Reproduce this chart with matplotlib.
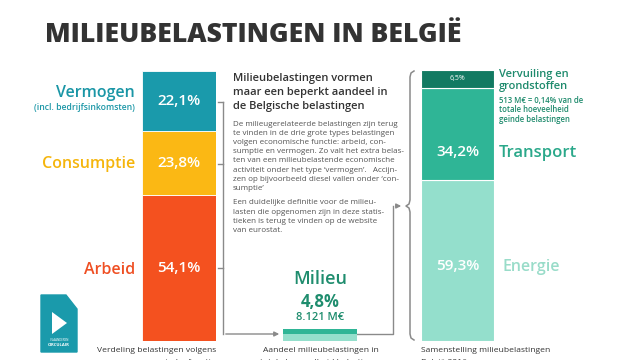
import numpy as np
import matplotlib.pyplot as plt
from matplotlib.patches import Polygon

plt.rcParams['font.family'] = ['Open Sans', 'DejaVu Sans']

# left bar: verdeling belastingen volgens economische functie (top to bottom)
func_labels = ['Vermogen', 'Consumptie', 'Arbeid']
func_values = [22.1, 23.8, 54.1]
func_colors = ['#1a9aab', '#fbb814', '#f4511f']
func_text_colors = ['#1a96a6', '#f5b50c', '#ef4f23']

# right bar: samenstelling milieubelastingen (top to bottom)
env_labels = ['Vervuiling en', 'Transport', 'Energie']
env_values = [6.5, 34.2, 59.3]
env_colors = ['#127a62', '#2fb596', '#94dfcc']
env_text_colors = ['#1d8a6c', '#2aa88a', '#99dcc9']

milieu_share = 4.8
milieu_amount = '8.121 M€'

W, H = 640, 360
fig = plt.figure(figsize=(6.4, 3.6), dpi=100)
fig.patch.set_facecolor('white')


def px_axes(x0, y0, x1, y1):
    # axes from a pixel box, y counted from the top
    return fig.add_axes([x0 / W, 1 - y1 / H, (x1 - x0) / W, (y1 - y0) / H])


def fmt(v):
    return f'{v:.1f}%'.replace('.', ',')


# ---- left stacked bar
axl = px_axes(142, 71, 216, 341)
bottom = 0
for lab, v, c in zip(func_labels[::-1], func_values[::-1], func_colors[::-1]):
    axl.bar(0, v, bottom=bottom, width=1, color=c, edgecolor='white', linewidth=0.6)
    axl.text(0, bottom + v / 2, fmt(v), color='white', ha='center', va='center',
             fontsize=11, fontweight='semibold')
    bottom += v
axl.set_xlim(-0.5, 0.5)
axl.set_ylim(0, 100)
axl.axis('off')

# ---- right stacked bar
axr = px_axes(421, 70, 494, 341)
bottom = 0
for lab, v, c in zip(env_labels[::-1], env_values[::-1], env_colors[::-1]):
    axr.bar(0, v, bottom=bottom, width=1, color=c, edgecolor='white', linewidth=0.8)
    bottom += v
axr.set_xlim(-0.5, 0.5)
axr.set_ylim(0, 100)
axr.axis('off')
axr.text(0, env_values[2] / 2 - 2, fmt(env_values[2]), color='white', ha='center',
         va='center', fontsize=11, fontweight='semibold')
axr.text(0, env_values[2] + env_values[1] * 0.3, fmt(env_values[1]), color='white',
         ha='center', va='center', fontsize=11, fontweight='semibold')
axr.text(0, 100 - env_values[0] / 2, fmt(env_values[0]),
         color='white', ha='center', va='center', fontsize=5)

# ---- milieu bar (energie light, the rest dark)
axm = px_axes(283, 329, 357, 341)
axm.bar(0, env_values[2], width=1, color=env_colors[2])
axm.bar(0, env_values[0] + env_values[1], bottom=env_values[2], width=1,
        color=env_colors[1])
axm.set_xlim(-0.5, 0.5)
axm.set_ylim(0, 100)
axm.axis('off')

# ---- overlay for text and connectors, pixel coordinates
ov = fig.add_axes([0, 0, 1, 1], zorder=-1)
ov.set_xlim(0, W)
ov.set_ylim(H, 0)
ov.axis('off')

ov.text(45, 35, 'MILIEUBELASTINGEN IN BELGIË', fontsize=19.2, fontweight='heavy',
        color='#333333', va='center', ha='left')

# left labels
ov.text(135, 93, func_labels[0], color=func_text_colors[0], fontsize=11.5,
        fontweight='semibold', ha='right', va='center')
ov.text(135, 107, '(incl. bedrijfsinkomsten)', color=func_text_colors[0],
        fontsize=6.2, fontweight='semibold', ha='right', va='center')
ov.text(135, 164, func_labels[1], color=func_text_colors[1], fontsize=11.5,
        fontweight='semibold', ha='right', va='center')
ov.text(135, 270, func_labels[2], color=func_text_colors[2], fontsize=11.5,
        fontweight='semibold', ha='right', va='center')

# left bracket and arrows
gray = '#8a8a8a'
ov.plot([223, 223], [102, 334], color=gray, lw=1)
for yy in [102, 164, 268]:
    ov.plot([218, 223], [yy, yy], color=gray, lw=1)
ov.annotate('', xy=(282, 334), xytext=(223, 334),
            arrowprops=dict(arrowstyle='-|>', color=gray, lw=1, mutation_scale=7))
ov.plot([357, 393, 393], [334, 334, 206], color=gray, lw=1)
ov.annotate('', xy=(404, 206), xytext=(393, 206),
            arrowprops=dict(arrowstyle='-|>', color=gray, lw=1, mutation_scale=7))

# curly brace next to right bar
bx = [414, 411, 410, 410, 409, 406, 409, 410, 410, 411, 414]
by = [71, 73, 77, 200, 204, 206, 208, 212, 334, 338, 340]
ov.plot(bx, by, color=gray, lw=1.1, solid_joinstyle='round')

# middle text block
dark = '#333333'
body = '#555555'
heading = ['Milieubelastingen vormen', 'maar een beperkt aandeel in',
           'de Belgische belastingen']
for i, line in enumerate(heading):
    ov.text(233, 78 + i * 14, line, fontsize=8, fontweight='semibold', color=dark,
            va='center')
par1 = ['De milieugerelateerde belastingen zijn terug',
        'te vinden in de drie grote types belastingen',
        'volgen economische functie: arbeid, con-',
        'sumptie en vermogen. Zo valt het extra belas-',
        'ten van een milieubelastende economische',
        'activiteit onder het type \u2018vermogen\u2019.   Accijn-',
        'zen op bijvoorbeeld diesel vallen onder \u2018con-',
        'sumptie\u2019']
for i, line in enumerate(par1):
    ov.text(233, 124 + i * 9.2, line, fontsize=5.8, color=body, va='center')
par2 = ['Een duidelijke definitie voor de milieu-',
        'lasten die opgenomen zijn in deze statis-',
        'tieken is terug te vinden op de website',
        'van eurostat.']
for i, line in enumerate(par2):
    ov.text(233, 203 + i * 9.2, line, fontsize=5.8, color=body, va='center')

green = '#1f8d6e'
ov.text(320, 279, 'Milieu', fontsize=13, color=green, fontweight='semibold',
        ha='center', va='center')
ov.text(320, 302, fmt(milieu_share), fontsize=12, color=green, fontweight='bold',
        ha='center', va='center')
ov.text(320, 318, milieu_amount, fontsize=8, color=green, fontweight='semibold',
        ha='center', va='center')

# right labels
ov.text(499, 74, env_labels[0], color=env_text_colors[0], fontsize=8,
        fontweight='semibold', va='center')
ov.text(499, 86, 'grondstoffen', color=env_text_colors[0], fontsize=8,
        fontweight='semibold', va='center')
sub = ['513 M€ = 0,14% van de', 'totale hoeveelheid', 'geïnde belastingen']
for i, line in enumerate(sub):
    ov.text(499, 100 + i * 9.7, line, fontsize=5.6, color=env_text_colors[0],
            fontweight='semibold', va='center')
ov.text(499, 153, env_labels[1], color=env_text_colors[1], fontsize=12,
        fontweight='semibold', va='center')
ov.text(503, 267, env_labels[2], color=env_text_colors[2], fontsize=11.5,
        fontweight='semibold', va='center')

# bottom captions, second lines run off the bottom edge
cap = '#333333'
ov.text(216, 350, 'Verdeling belastingen volgens', fontsize=6.1, color=cap,
        ha='right', va='center')
ov.text(216, 362, 'economische functie', fontsize=6.1, color=cap,
        ha='right', va='center')
ov.text(321, 350, 'Aandeel milieubelastingen in', fontsize=6.1, color=cap,
        ha='center', va='center')
ov.text(321, 362, 'totale hoeveelheid belastingen', fontsize=6.1, color=cap,
        ha='center', va='center')
ov.text(421, 350, 'Samenstelling milieubelastingen', fontsize=6.1, color=cap,
        ha='left', va='center')
ov.text(421, 362, 'België 2016', fontsize=6.1, color=cap, ha='left', va='center')

# logo
ov.add_patch(Polygon([(41, 295), (66, 295), (77, 309), (77, 352), (41, 352)],
                     closed=True, color='#1a9aab'))
ov.add_patch(Polygon([(52, 312), (52, 334), (67, 323)], closed=True,
                     facecolor='white', edgecolor='none'))
ov.text(59, 340, 'VLAANDEREN', fontsize=2.2, color='white', ha='center', va='center')
ov.text(59, 345, 'CIRCULAIR', fontsize=3, color='white', ha='center', va='center',
        fontweight='bold')

fig.savefig('out.png', dpi=100, facecolor='white')
